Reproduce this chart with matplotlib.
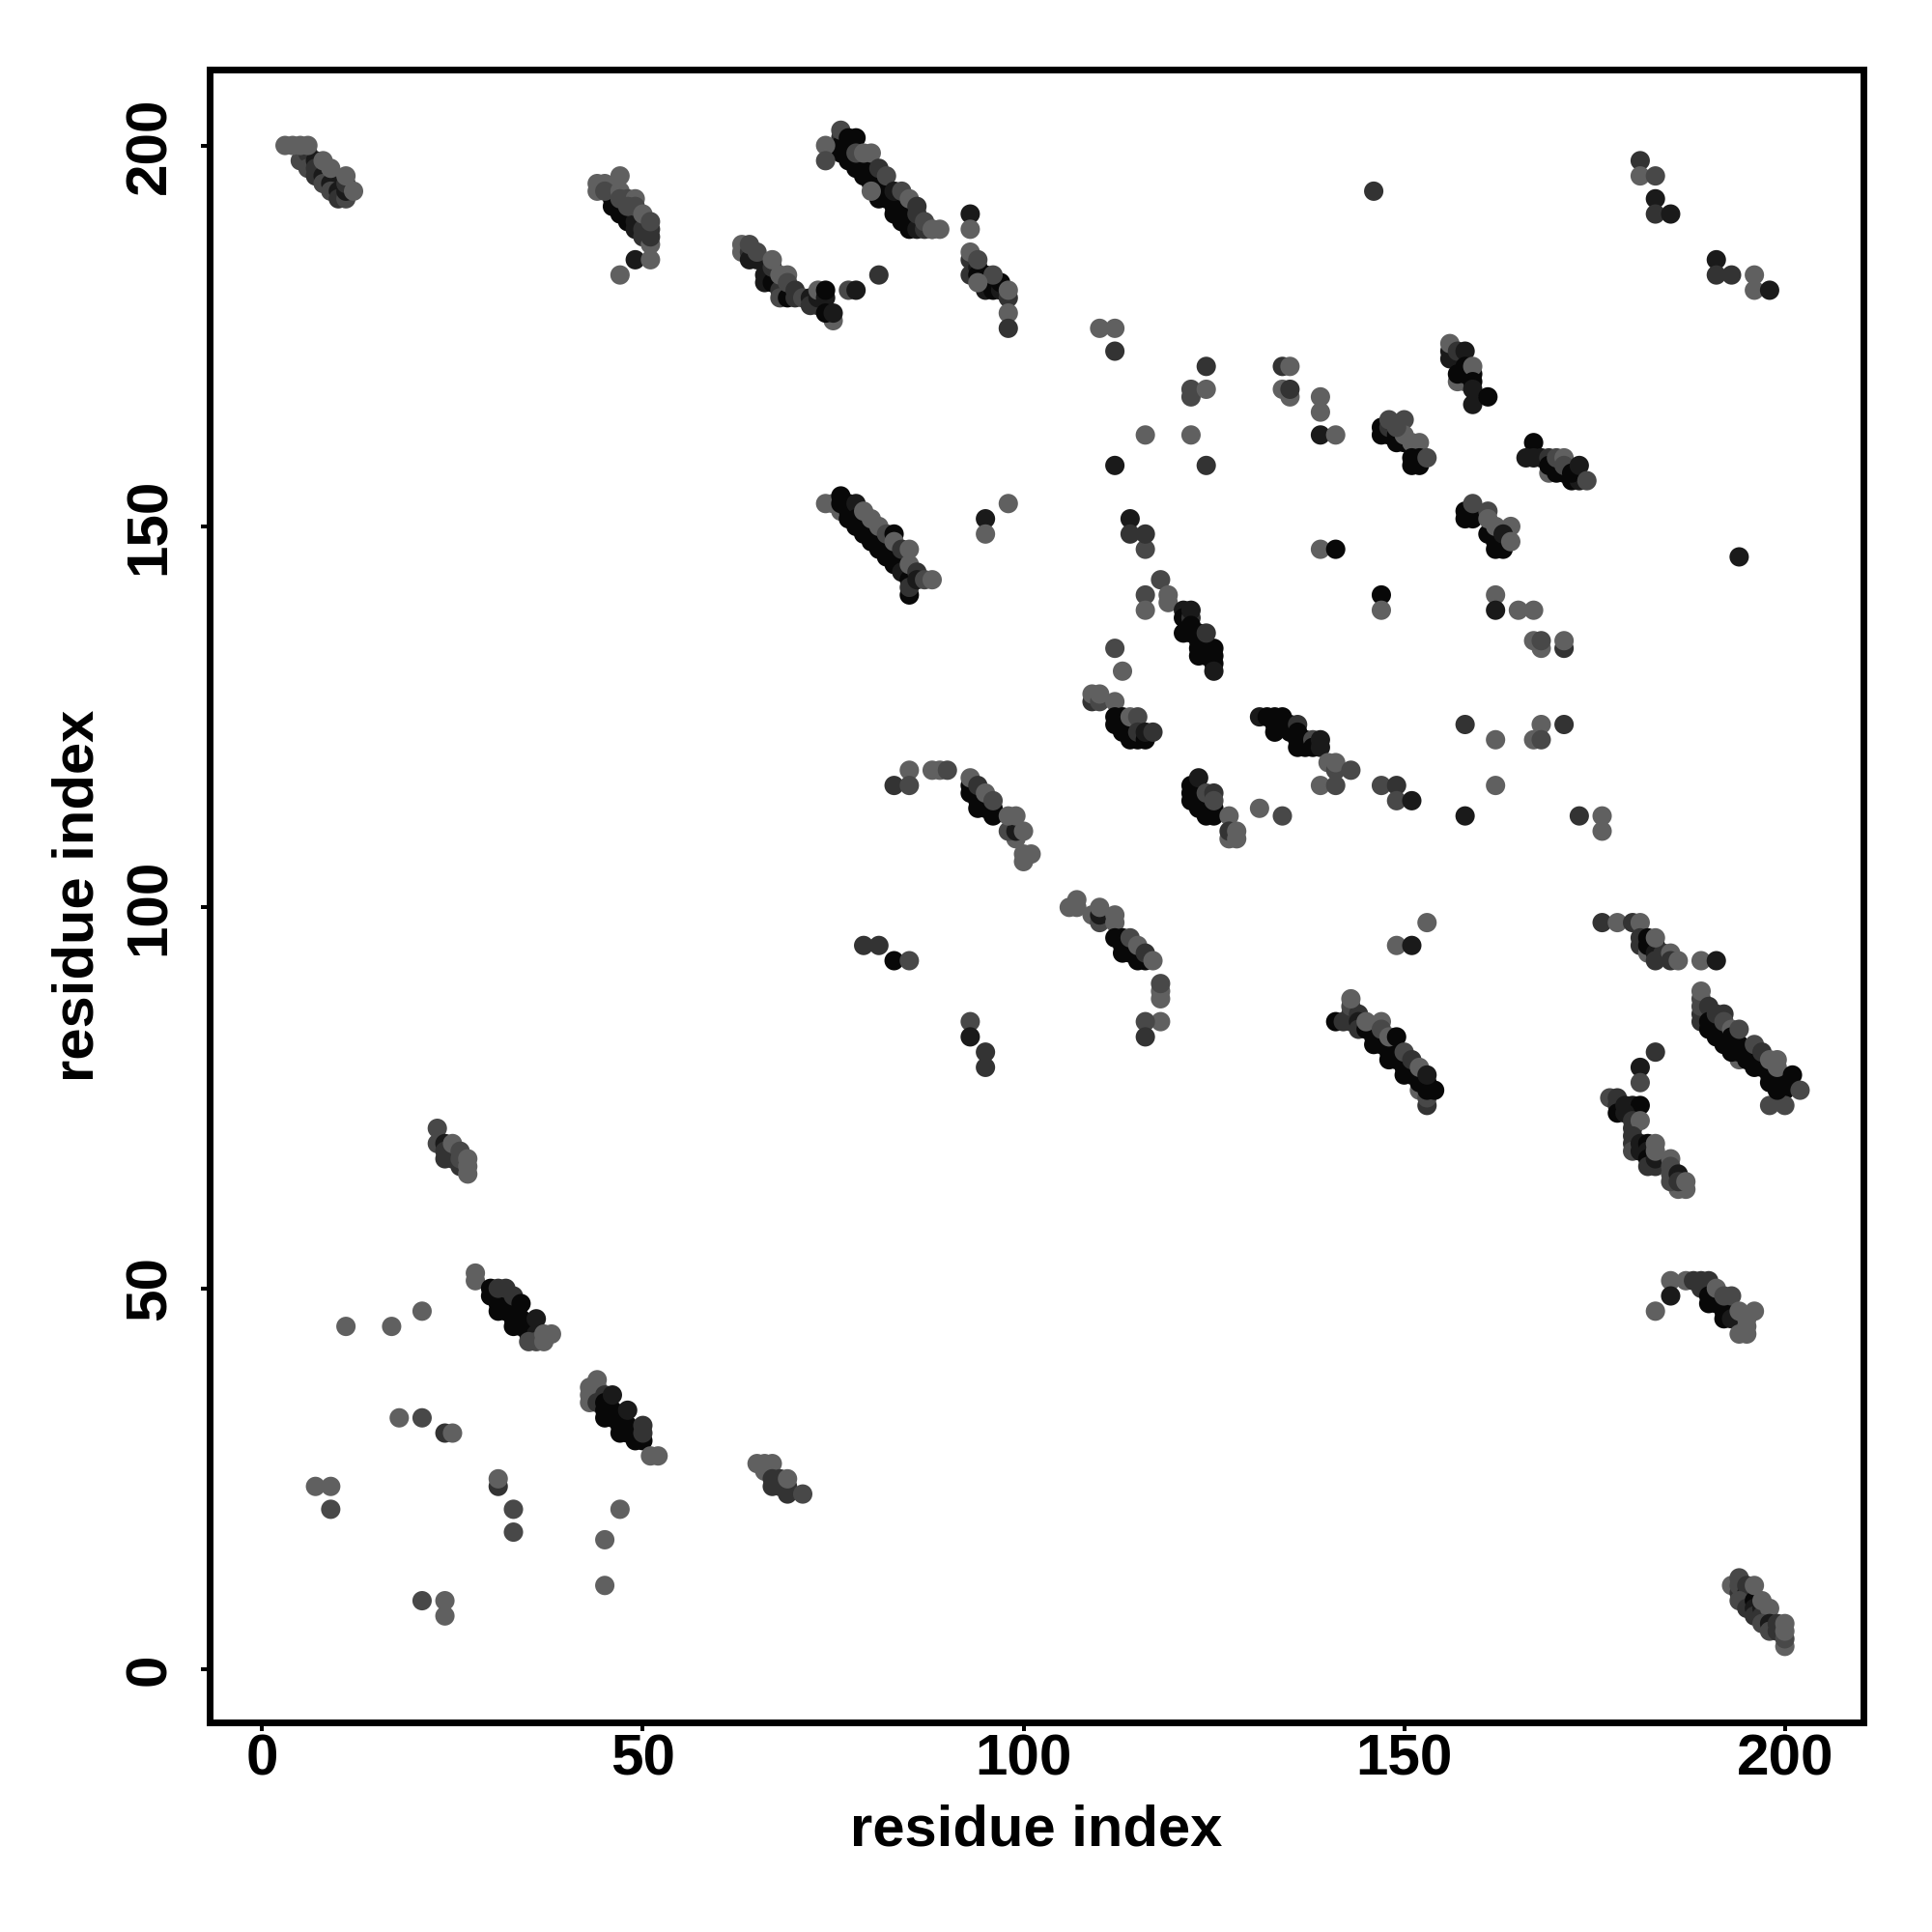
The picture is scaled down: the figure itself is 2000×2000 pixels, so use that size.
import matplotlib
matplotlib.use("Agg")
import matplotlib.pyplot as plt

# Each entry: (residue i, residue j, shade level 1 = lightest ... 5 = darkest). Later entries lie on top.
tick_values = [0, 50, 100, 150, 200]
axis_label = "residue index"
shade_colors = {1: "#606060", 2: "#484848", 3: "#333333", 4: "#1a1a1a", 5: "#080808"}

cluster_a = [(5,198,2),(6,199,3),(6,197,2),(7,198,4),(7,197,3),(7,196,3),(8,196,4),(8,195,2),(9,195,4),(9,194,2),(10,194,4),(10,193,3),(11,193,2),(11,194,4),(11,195,3),
 (3,200,1),(4,200,1),(5,200,1),(6,200,1),(8,198,1),(9,197,1),(11,196,1),(12,194,1)]
cluster_b = [(46,194,5),(46,193,5),(46,192,5),(47,192,5),(47,191,5),(48,191,5),(48,190,5),(49,190,4),(49,189,4),(50,189,3),(50,188,3),(51,187,1),(51,188,3),(51,189,3),
 (44,194,1),(44,195,1),(45,195,1),(45,194,2),(47,196,1),(47,194,1),(47,193,2),(48,193,2),(49,193,1),(48,192,2),(49,192,2),(50,191,1),(51,190,2),(49,185,4),(51,185,1),(47,183,1)]
cluster_c = [(63,187,1),(63,186,1),(64,186,3),(64,185,4),(65,185,4),(64,187,2),(65,186,2),(66,183,4),(66,182,4),(67,182,5),(67,184,3),(67,185,1),(68,181,3),(68,180,2),(69,180,5),(68,183,1),(69,183,1),(69,182,2),(70,181,3),(70,180,3),(71,180,2),(72,180,4),(72,179,3),(73,179,3),(73,180,4),(73,181,1),(74,180,4),(74,181,5),(75,177,1),(74,178,5),(75,178,4),(77,181,2),(78,181,4),(81,183,3)]
cluster_d = [(76,201,3),(76,200,5),(76,199,5),(77,199,5),(77,198,5),(78,198,5),(78,197,5),(79,197,5),(79,196,5),(80,196,5),(80,195,5),(81,195,5),(81,194,5),(81,193,5),(82,194,5),(82,193,5),(83,193,5),(83,192,5),(83,191,5),(84,191,5),(84,190,5),(85,190,5),(85,189,5),(86,189,4),(87,189,3),(88,189,2),(89,189,1),
 (76,202,2),(74,200,1),(74,198,2),(77,201,5),(78,201,5),(78,199,2),(79,199,1),(80,199,1),(80,194,1),(81,197,3),(82,196,2),(83,194,4),(84,194,2),(85,193,1),(86,192,3),(86,191,3),(87,190,2),(88,189,1)]
cluster_e = [(93,191,4),(93,189,1),(93,185,3),(93,183,3),(94,184,4),(94,183,5),(95,183,5),(95,182,5),(95,181,4),(96,182,5),(96,181,5),(97,181,4),(97,182,5),(93,186,1),(94,185,2),(96,183,2),(94,182,1),(98,180,3),(98,181,1),(98,178,1),(98,176,3)]
scatter_mid = [(110,176,1),(112,176,1),(112,173,3),(124,171,3),(122,167,2),(122,168,2),(124,168,1),(134,171,3),(135,171,1),(134,168,1),(135,167,1),(135,168,3),(139,167,1),(139,165,1),(139,162,4),(141,162,1),(116,162,1),(122,162,1),(112,158,4),(124,158,3),(114,151,4),(114,149,3),(116,147,2),(116,149,3),(139,147,1),(141,147,5),(118,143,2),(116,141,2),(116,139,1),(119,140,1),(119,141,1),(147,141,5),(147,139,1),(162,141,1),(162,139,4),(165,139,1),(167,139,1),(168,134,1),(167,135,1),(168,135,2),(171,134,3),(171,135,1),(112,134,2),(113,131,1),(194,146,4),(146,194,3),(98,153,1),(95,151,4),(95,149,1)]
cluster_f = [(121,139,4),(121,138,5),(122,138,3),(122,139,4),(121,136,5),(122,136,5),(122,137,5),(123,136,5),(123,135,5),(123,134,5),(123,133,5),(124,134,5),(124,133,5),(125,134,5),(125,133,5),(125,132,5),(125,131,4),(124,136,3)]
cluster_g = [(157,169,1),(158,169,1),(156,172,4),(156,173,4),(156,174,1),(157,173,3),(157,170,5),(158,173,4),(158,170,5),(158,171,5),(159,170,5),(159,171,1),(159,169,5),(159,168,4),(159,166,4),(161,167,5)]
cluster_h = [(147,163,5),(147,162,5),(148,162,5),(148,163,3),(149,162,5),(149,161,5),(150,161,5),(148,164,2),(150,164,2),(150,162,1),(149,163,2),(151,161,1),(152,161,1),(151,159,5),(151,158,5),(152,159,5),(152,158,5),(153,159,2)]
cluster_i = [(167,161,5),(166,159,4),(167,159,4),(168,159,4),(169,159,3),(169,157,1),(170,157,5),(169,158,5),(170,158,5),(171,157,5),(170,159,2),(171,159,1),(171,158,2),(172,156,5),(173,156,4),(172,157,5),(173,158,4),(174,156,2)]
cluster_j = [(158,152,5),(158,151,5),(159,151,5),(159,152,5),(159,153,2),(161,149,5),(162,147,5),(163,147,5),(162,148,5),(163,148,5),(161,152,2),(161,151,1),(162,150,1),(164,150,1),(163,149,4),(164,148,1)]
cluster_k = [(131,125,4),(132,125,5),(133,125,5),(134,125,5),(133,124,5),(133,123,5),(134,124,5),(135,123,5),(135,124,5),(136,124,3),(136,123,5),(136,122,5),(136,121,5),(137,122,5),(137,121,5),(138,122,2),(138,121,5),(139,122,4),(139,121,4),
 (140,119,1),(141,118,2),(141,119,1),(143,118,2),(139,116,1),(141,116,2),(147,116,2),(149,116,3),(149,114,2),(151,114,4),
 (158,124,3),(162,122,1),(168,124,1),(171,124,3),(167,122,1),(168,122,2),(162,116,1),(158,112,4),(173,112,3),(176,112,1),(176,110,1)]
cluster_l = [(109,127,3),(109,128,1),(110,127,2),(110,128,1),(112,127,1),(112,125,5),(112,124,5),(113,125,5),(113,123,5),(113,124,5),(114,122,5),(114,123,5),(115,122,5),(114,125,1),(115,125,2),(115,123,3),(116,122,5),(116,123,4),(117,123,3)]
cluster_m = [(122,116,5),(122,115,5),(122,114,5),(123,115,5),(123,114,5),(123,113,5),(124,113,5),(124,112,5),(125,112,5),(125,113,5),(123,117,4),(124,115,2),(125,115,3),(125,114,2),(127,112,1),(127,109,1),(127,110,3),(128,110,1),(128,109,1),(131,113,1),(134,112,2)]
cluster_n = [(83,116,3),(85,118,1),(85,116,2),(88,118,1),(89,118,1),(90,118,2),
 (93,115,5),(93,116,5),(94,115,5),(94,114,5),(94,113,5),(95,114,5),(95,113,5),(96,113,5),(96,112,5),(93,117,1),(94,116,3),(95,115,1),(96,114,2),
 (99,109,1),(98,110,2),(99,110,4),(98,112,1),(99,112,1),(100,110,1),(100,106,1),(100,107,1),(101,107,1)]
cluster_o = [(106,100,1),(107,100,1),(107,101,1),(109,99,1),(110,98,2),(110,99,4),(110,100,1),(112,98,1),(112,99,1),(112,96,5),(113,96,5),(113,95,5),(113,94,5),(114,95,5),(114,94,5),(115,94,5),(115,93,5),(116,93,5),(114,96,2),(115,95,1),(116,94,3),(117,93,1),(118,88,1),(118,89,1),(118,90,2),(118,85,1),(116,85,2),(116,83,3),
 (79,95,3),(81,95,3),(83,93,5),(85,93,2),(93,85,2),(93,83,4),(95,81,3),(95,79,3)]
cluster_p = [(152,76,1),(153,74,3),(153,75,2),(141,85,5),(142,85,3),(143,85,3),(143,86,3),(143,87,2),(144,86,3),(144,85,4),(144,84,3),(145,84,5),(146,84,5),(146,83,5),(146,82,5),(147,83,5),(147,82,5),(148,82,5),(148,81,5),(148,80,5),(149,81,5),(149,80,5),(150,80,5),(150,79,5),(150,78,5),(151,79,5),(151,78,5),(152,78,5),(152,77,5),(153,77,5),(153,76,5),(154,76,5),(143,88,1),(145,85,1),(147,85,1),(147,84,2),(148,83,1),(149,83,5),(150,81,2),(151,80,3),(152,79,1),(153,78,4)]
cluster_q = [(176,98,3),(178,98,1),(180,98,3),(181,98,1),(181,96,3),(181,95,3),(182,94,1),(182,96,5),(182,95,5),(183,95,5),(183,94,4),(183,93,3),(184,94,3),(183,96,1),(185,94,1),(185,93,3),(186,93,1),(189,93,1),(191,93,4),(149,95,1),(151,95,4),(153,98,1)]
cluster_r = [(194,80,1),(189,85,3),(189,86,3),(189,87,2),(189,88,2),(189,89,1),(190,87,3),(190,85,5),(190,84,5),(191,84,5),(191,83,5),(191,86,3),(192,86,3),(192,85,2),(193,84,1),(192,82,5),(193,81,5),(193,82,5),(194,82,5),(194,81,5),(195,81,5),(193,83,5),(194,84,2),(195,80,5),(196,80,5),(196,79,5),(197,79,5),(196,82,2),(197,81,3),(198,78,5),(198,77,5),(199,77,5),(199,78,5),(200,76,5),(200,77,5),(198,80,1),(199,80,1),(199,79,1),(201,78,5),(198,74,2),(200,74,2),(199,76,5),(202,76,2)]
cluster_s = [(177,75,2),(178,75,3),(178,74,3),(178,73,5),(179,74,4),(180,74,4),(181,74,5),(179,73,4),(180,72,3),(180,71,3),(181,72,1),(180,70,3),(180,69,3),(180,68,2),(181,69,4),(181,68,4),(182,69,5),(182,68,4),(182,67,5),(182,66,3),(183,66,3),(183,67,4),(183,69,1),(183,68,1),(185,67,1),(186,63,1),(187,63,1),(185,66,2),(185,65,2),(185,64,2),(186,65,4),(186,64,3),(187,64,1),(183,81,3),(181,79,4),(181,77,2)]
cluster_t = [(185,51,1),(185,49,4),(183,47,1),(187,51,1),(188,51,3),(189,51,3),(190,51,3),(189,50,3),(190,50,3),(190,49,5),(190,48,5),(191,49,5),(191,48,5),(192,48,5),(192,47,5),(192,46,5),(193,47,5),(193,46,4),(191,50,1),(192,49,2),(193,49,2),(194,44,1),(195,44,1),(195,45,1),(195,46,1),(194,47,1),(196,47,1)]
cluster_u = [(193,11,1),(194,12,2),(194,10,3),(194,11,2),(195,10,4),(195,11,3),(195,9,3),(194,9,2),(195,8,3),(196,9,5),(196,8,4),(196,7,3),(197,8,4),(197,7,3),(196,11,1),(197,9,1),(198,8,1),(197,6,2),(198,6,4),(198,5,2),(199,6,3),(199,5,3),(200,3,1),(200,4,2),(200,5,1),(200,6,1)]
cluster_v = [(181,198,3),(181,196,1),(183,196,2),(183,193,4),(183,191,3),(185,191,4),(191,185,4),(191,183,3),(193,183,3),(196,181,1),(196,183,1),(198,181,4)]
cluster_w = [(23,71,2),(23,69,2),(24,69,4),(24,68,3),(24,67,3),(25,67,3),(25,68,3),(25,69,1),(26,68,2),(26,66,3),(26,67,2),(27,65,1),(27,66,1),(27,67,1)]
cluster_x = [(28,51,1),(28,52,1),(30,50,5),(30,49,5),(31,49,5),(31,48,5),(31,47,5),(32,48,5),(32,47,5),(33,47,5),(33,46,5),(33,45,5),(34,46,5),(34,45,5),(35,45,5),(35,44,5),(36,44,4),(35,43,2),(36,43,2),(31,50,3),(32,50,3),(33,49,3),(34,48,5),(36,46,4),(37,43,1),(37,44,1),(38,44,1),
 (21,47,1),(17,45,1),(11,45,1),(18,33,1),(21,33,2),(24,31,3),(25,31,1)]
cluster_y = [(43,35,1),(43,36,1),(43,37,1),(44,38,1),(44,37,1),(44,35,3),(45,36,3),(45,35,5),(45,34,5),(45,33,5),(46,34,5),(46,33,5),(47,33,5),(47,32,5),(47,31,5),(48,32,5),(48,31,5),(49,31,5),(49,30,5),(50,30,5),(46,36,4),(48,34,4),(50,31,3),(50,32,3),(51,28,1),(52,28,1)]
cluster_z = [(31,24,3),(31,25,1),(7,24,1),(9,24,1),(9,21,2),(33,21,2),(33,18,2),(47,21,1),(45,17,1),(45,11,1),(21,9,2),(24,7,1),(24,9,1),
 (65,27,1),(66,27,1),(66,26,1),(67,27,1),(67,25,3),(67,24,3),(68,25,3),(68,24,3),(69,24,3),(69,23,3),(69,25,1),(71,23,2)]
cluster_aa = [(74,153,1),(75,153,1),(76,152,1),(76,153,5),(76,154,5),(77,153,5),(77,152,5),(77,151,5),(78,153,4),(78,151,5),(78,150,5),(79,150,5),(79,149,5),(80,149,5),(80,148,5),(81,148,5),(81,147,5),(82,147,5),(82,146,5),(83,146,5),(83,145,5),(84,145,5),(84,144,4),(85,143,5),(79,152,1),(80,151,1),(81,150,1),(82,149,2),(83,149,5),(83,148,1),(84,147,3),(85,147,1),(85,145,1),(85,141,5),(85,142,3),(86,144,3),(86,143,4),(87,143,2),(88,143,1)]

clusters = [cluster_a, cluster_b, cluster_c, cluster_d, cluster_e, scatter_mid, cluster_f, cluster_g,
            cluster_h, cluster_i, cluster_j, cluster_k, cluster_l, cluster_m, cluster_n, cluster_o,
            cluster_p, cluster_q, cluster_r, cluster_s, cluster_t, cluster_u, cluster_v, cluster_w,
            cluster_x, cluster_y, cluster_z, cluster_aa]

W = H = 2000
fig = plt.figure(figsize=(10, 10), dpi=200)
ax = fig.add_axes([216.5 / W, 1 - 1783 / H, (1929 - 216.5) / W, (1783 - 71.7) / H])

for cl in clusters:
    ax.scatter([p[0] for p in cl], [p[1] for p in cl], s=52,
               c=[shade_colors[p[2]] for p in cl], linewidths=0, zorder=3)

ax.set_xlim(-6.97, 210.32)
ax.set_ylim(-6.97, 210.0)
ax.set_xticks(tick_values)
ax.set_yticks(tick_values)
family = ["Liberation Sans", "DejaVu Sans"]
tick_fp = dict(family=family, fontweight="bold", fontsize=21.7)
label_fp = dict(family=family, fontweight="bold", fontsize=21.5)
ax.set_xticklabels([str(v) for v in tick_values], **tick_fp)
ax.set_yticklabels([str(v) for v in tick_values], rotation=90, va="center", **tick_fp)
ax.tick_params(axis="x", length=3.2, width=1.44, pad=0.8)
ax.tick_params(axis="y", length=3.2, width=1.44, pad=8.8)
for s in ax.spines.values():
    s.set_linewidth(2.5)
    s.set_capstyle("projecting")
fig.text(840 * 1.2767 / W, 1 - 1895 / H, axis_label, ha="center", va="center", **label_fp)
fig.text(81 / W, 1 - (71.7 + 1783) / 2 / H, axis_label, ha="center", va="center", rotation=90, **label_fp)
fig.savefig("out.png", dpi=200, facecolor="white")
